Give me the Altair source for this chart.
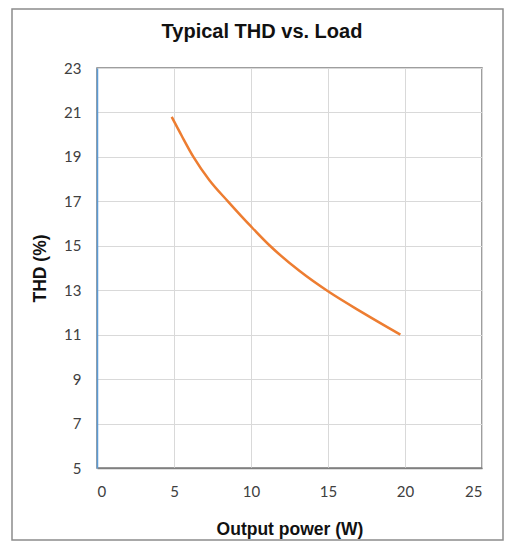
import altair as alt
import pandas as pd

# Data
power_w = [4.85, 5.5, 6.26, 7.3, 8.5, 10.0, 11.23, 13.18, 15.0, 17.3, 19.7]
thd_pct = [20.8, 19.95, 19.0, 17.95, 17.0, 15.87, 15.0, 13.85, 12.95, 11.97, 11.0]

x_ticks = [0, 5, 10, 15, 20, 25]
y_ticks = [5, 7, 9, 11, 13, 15, 17, 19, 21, 23]
chart_title = "Typical THD vs. Load"

df = pd.DataFrame({"power": power_w, "thd": thd_pct})

line = alt.Chart(df).mark_line(color="#ED7D31", strokeWidth=2.5, interpolate="monotone").encode(
    x=alt.X("power:Q",
            scale=alt.Scale(domain=[0, 25], nice=False),
            axis=alt.Axis(values=x_ticks, title="Output power (W)", grid=True,
                          gridColor="#d9d9d9", ticks=False, domainColor="#7f7f7f",
                          domainWidth=1.5, labelPadding=16, titlePadding=21)),
    y=alt.Y("thd:Q",
            scale=alt.Scale(domain=[5, 23], nice=False),
            axis=alt.Axis(values=y_ticks, title="THD (%)", grid=True,
                          gridColor="#d9d9d9", ticks=False, domainColor="#5b9bd5",
                          domainWidth=1.5, labelPadding=16, titlePadding=14)),
)

frame = alt.Chart(alt.Data(values=[{}])).mark_rect(
    fill=None, stroke="#8c8c8c", strokeWidth=1.5, clip=False
).encode(
    x=alt.value(-85), x2=alt.value(406), y=alt.value(-59), y2=alt.value(472)
)

title = alt.Chart(alt.Data(values=[{"t": chart_title}])).mark_text(
    font="Liberation Sans", fontSize=20, fontWeight="bold", color="#111111",
    align="center", baseline="middle", clip=False
).encode(
    text="t:N", x=alt.value(165), y=alt.value(-36)
)

chart = alt.layer(frame, line, title).properties(
    width=385,
    height=400,
    autosize=alt.AutoSizeParams(type="none"),
    padding={"left": 89, "top": 60, "right": 22, "bottom": 73},
).configure_axis(
    labelFont="Lato", labelFontSize=15, labelColor="#404040",
    titleFont="Liberation Sans", titleFontSize=17.5, titleFontWeight="bold", titleColor="#111111",
).configure_view(
    stroke="#7f7f7f", strokeWidth=1.5
)

chart.save("out.html", embed_options={"renderer": "svg", "actions": False})
